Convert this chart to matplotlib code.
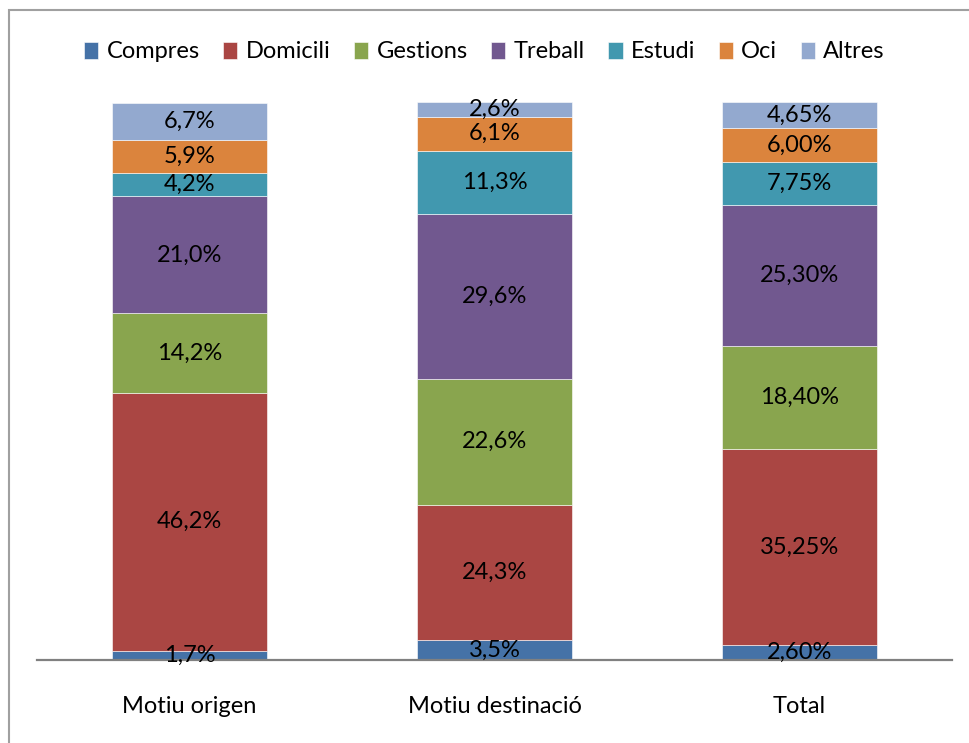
import matplotlib.pyplot as plt
from matplotlib.patches import Rectangle
import numpy as np

plt.rcParams['font.family'] = ['Lato', 'DejaVu Sans']

# motius de desplaçament (%)
categories = ['Motiu origen', 'Motiu destinació', 'Total']
series = ['Compres', 'Domicili', 'Gestions', 'Treball', 'Estudi', 'Oci', 'Altres']
compres = [1.7, 3.5, 2.60]
domicili = [46.2, 24.3, 35.25]
gestions = [14.2, 22.6, 18.40]
treball = [21.0, 29.6, 25.30]
estudi = [4.2, 11.3, 7.75]
oci = [5.9, 6.1, 6.00]
altres = [6.7, 2.6, 4.65]
labels = [
    ['1,7%', '3,5%', '2,60%'],
    ['46,2%', '24,3%', '35,25%'],
    ['14,2%', '22,6%', '18,40%'],
    ['21,0%', '29,6%', '25,30%'],
    ['4,2%', '11,3%', '7,75%'],
    ['5,9%', '6,1%', '6,00%'],
    ['6,7%', '2,6%', '4,65%'],
]
colors = ['#4572A7', '#AA4643', '#89A54E', '#71588F', '#4198AF', '#DB843D', '#93A9CF']

values = [compres, domicili, gestions, treball, estudi, oci, altres]
fs = 17

fig = plt.figure(figsize=(9.69, 7.43), dpi=100)
ax = fig.add_axes([37 / 969, 83 / 743, 915 / 969, 558 / 743])

x = np.arange(len(categories))
bottom = np.zeros(len(categories))
handles = []
for name, vals, col, labs in zip(series, values, colors, labels):
    vals = np.array(vals)
    b = ax.bar(x, vals, bottom=bottom, width=0.51, color=col,
               edgecolor='white', linewidth=0.4, label=name)
    handles.append(b)
    for xi, v, bt, lab in zip(x, vals, bottom, labs):
        ax.text(xi, bt + v / 2, lab, ha='center', va='center',
                fontsize=fs, color='black')
    bottom += vals

ax.set_xlim(-0.5, 2.5)
ax.set_ylim(0, 100)
ax.set_yticks([])
ax.set_xticks(x)
ax.set_xticklabels(categories, fontsize=fs)
ax.tick_params(axis='x', length=0, pad=26)
for s in ['top', 'right', 'left']:
    ax.spines[s].set_visible(False)
ax.spines['bottom'].set_color('#808080')
ax.spines['bottom'].set_linewidth(1.6)

fig.legend(handles=handles, labels=series, loc='center', bbox_to_anchor=(0.5, 1 - 52 / 743),
           ncol=7, frameon=False, fontsize=fs, handlelength=0.6, handleheight=0.7,
           handletextpad=0.35, columnspacing=1.0)

# marc del gràfic
fig.patches.append(Rectangle((9 / 969, -0.01), 1.0, 1 - 10 / 743 + 0.01,
                             transform=fig.transFigure, fill=False,
                             edgecolor='#A0A0A0', linewidth=1.5))

fig.savefig('out.png', dpi=100)
